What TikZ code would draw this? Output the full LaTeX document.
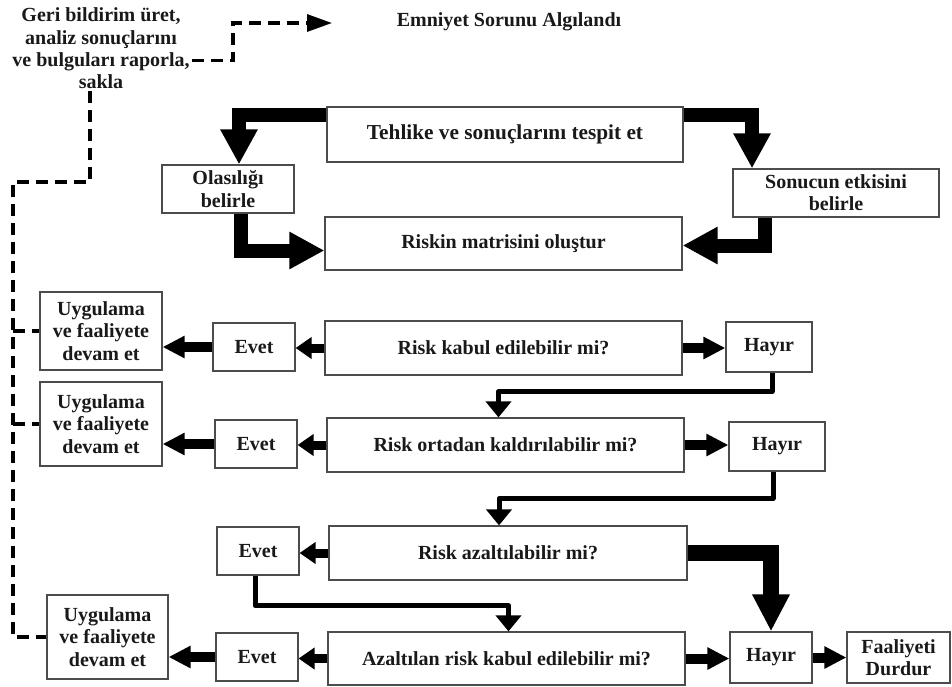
\documentclass[tikz,border=0pt]{standalone}
\usepackage{fontspec}
\setmainfont{Liberation Serif}[BoldFont={Liberation Serif Bold}]
\usetikzlibrary{arrows.meta}
\begin{document}
\begin{tikzpicture}[x=1pt,y=-1pt,
  every node/.style={font=\bfseries\fontsize{20}{22.3}\selectfont, text=black!90},
  box/.style={draw=black!70, line width=1.2pt, fill=white, align=center, inner sep=2pt},
  bigarrow/.style={line width=14pt, line join=miter, -{Triangle[length=35pt,width=35pt]}},
  midarrow/.style={line width=10pt, -{Triangle[length=22pt,width=21pt]}},
  smallarrow/.style={line width=9pt, -{Triangle[length=16pt,width=21pt]}},
  linkarrow/.style={line width=5pt, line join=round, -{Triangle[length=16pt,width=25pt]}},
  feedback/.style={line width=3.2pt, dash pattern=on 12pt off 7pt},
]
\useasboundingbox (0,0) rectangle (952,686);

% ---- top part
\node (emniyet) at (509,22) {Emniyet Sorunu Algılandı};
\node[align=center, inner sep=2pt] (geri) at (101,48.5)
  {Geri bildirim üret,\\analiz sonuçlarını\\ve bulguları raporla,\\sakla};

\node[box, minimum width=356pt, minimum height=55pt, font=\bfseries\fontsize{21.3}{23}\selectfont]
  (tehlike) at (505,134.5) {Tehlike ve sonuçlarını tespit et};
\node[box, minimum width=132pt, minimum height=48pt] (olas) at (228,189) {Olasılığı\\belirle};
\node[box, minimum width=206pt, minimum height=48pt] (sonuc) at (836,193) {Sonucun etkisini\\belirle};
\node[box, minimum width=357pt, minimum height=53pt] (riskin) at (503.5,243.5) {Riskin matrisini oluştur};

% ---- decision rows
\node[box, minimum width=357pt, minimum height=54pt] (q1) at (503.5,348) {Risk kabul edilebilir mi?};
\node[box, minimum width=357pt, minimum height=54pt] (q2) at (505.5,445) {Risk ortadan kaldırılabilir mi?};
\node[box, minimum width=358pt, minimum height=54pt] (q3) at (508,553) {Risk azaltılabilir mi?};
\node[box, minimum width=357pt, minimum height=53pt] (q4) at (506.5,658.5) {Azaltılan risk kabul edilebilir mi?};

\node[box, minimum width=82pt, minimum height=48pt] (e1) at (254,347) {Evet};
\node[box, minimum width=82pt, minimum height=48pt] (e2) at (256,444) {Evet};
\node[box, minimum width=82pt, minimum height=48pt] (e3) at (258,551) {Evet};
\node[box, minimum width=82pt, minimum height=48pt] (e4) at (257,657) {Evet};

\node[box, minimum width=122pt, minimum height=78pt] (u1) at (101,331) {Uygulama\\ve faaliyete\\devam et};
\node[box, minimum width=122pt, minimum height=84pt] (u2) at (101,424) {Uygulama\\ve faaliyete\\devam et};
\node[box, minimum width=121pt, minimum height=84pt] (u3) at (107.5,637) {Uygulama\\ve faaliyete\\devam et};

\node[box, minimum width=86pt, minimum height=50pt] (h1) at (769,347) {Hayır};
\node[box, minimum width=96pt, minimum height=49pt] (h2) at (777,446.5) {Hayır};
\node[box, minimum width=82pt, minimum height=51pt] (h4) at (771,657.5) {Hayır};
\node[box, minimum width=103pt, minimum height=51pt] (faal) at (898.5,657.5) {Faaliyeti\\Durdur};

% ---- feedback loop (dashed)
\coordinate (fbturn) at (233,23);
\coordinate (emtip) at (332,23);
\coordinate (fbl) at (13,182);
\draw[feedback, -{Triangle[length=25pt,width=17pt]}]
  ([yshift=-12pt]geri.east) -| (fbturn) -- (emtip);
\draw[feedback] ([xshift=-11pt]geri.south) |- (fbl) |- (u3.west);
\draw[feedback] (fbl |- u1.west) -- (u1.west);
\draw[feedback] (fbl |- u2.west) -- (u2.west);

% ---- thick flow arrows, upper block
\draw[bigarrow] ([yshift=-9pt]tehlike.north west) -| ([xshift=11pt]olas.north);
\draw[bigarrow] ([yshift=-9pt]tehlike.north east) -| ([xshift=-84pt]sonuc.north);
\draw[bigarrow] ([xshift=13pt]olas.south) |- ([yshift=-7pt]riskin.west);
\draw[bigarrow] ([xshift=-71pt]sonuc.south) |- ([yshift=-2pt]riskin.east);

% ---- row arrows
\draw[midarrow] (q1.east) -- (q1.east -| h1.west);
\draw[smallarrow] (q1.west) -- (q1.west -| e1.east);
\draw[midarrow] (e1.west) -- (e1.west -| u1.east);

\draw[midarrow] (q2.east) -- (q2.east -| h2.west);
\draw[smallarrow] (q2.west) -- (q2.west -| e2.east);
\draw[midarrow] (e2.west) -- (e2.west -| u2.east);

\draw[smallarrow] (q3.west) -- (q3.west -| e3.east);

\draw[midarrow] (q4.east) -- (q4.east -| h4.west);
\draw[midarrow] (h4.east) -- (h4.east -| faal.west);
\draw[smallarrow] (q4.west) -- (q4.west -| e4.east);
\draw[midarrow] (e4.west) -- (e4.west -| u3.east);

% ---- links between rows
\draw[linkarrow] ([xshift=3pt]h1.south) -- ++(0,19) -| ([xshift=-7pt]q2.north);
\draw[linkarrow] ([xshift=-4pt]h2.south) -- ++(0,27) -| ([xshift=-9pt]q3.north);
\draw[linkarrow] ([xshift=-3pt]e3.south) -- ++(0,30) -| ([xshift=2pt]q4.north);
\draw[line width=16pt, line join=miter, -{Triangle[length=37pt,width=35pt]}]
  (q3.east) -| (h4.north);
\end{tikzpicture}
\end{document}
